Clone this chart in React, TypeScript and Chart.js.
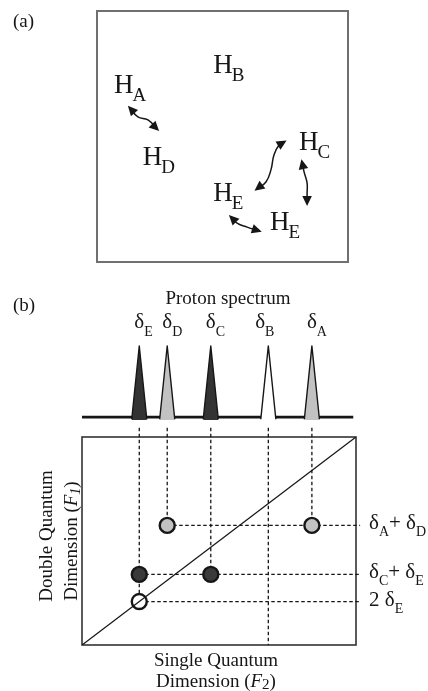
import React, { useEffect, useRef } from 'react';
import { Chart, registerables } from 'chart.js';

Chart.register(...registerables);

const SERIF = "'Liberation Serif', 'Times New Roman', serif";
const INK = '#161616';

// ---------------- panel (a): protons in the molecule ----------------
const atomLabels = ['A', 'B', 'D', 'C', 'E', 'E'];
const atomX = [0.68, 4.63, 1.82, 8.05, 4.63, 6.89];
const atomY = [6.73, 7.54, 3.86, 4.46, 2.43, 1.27];

// double-headed coupling arrows (wavy paths)
const couplingAD = [[1.31, 6.14], [1.63, 5.78], [2.03, 5.66], [2.39, 5.3]];
const couplingEC = [[6.37, 2.91], [6.73, 3.19], [6.93, 3.67], [7.05, 4.26], [7.25, 4.66], [7.45, 4.78]];
const couplingCE = [[8.17, 3.98], [8.25, 3.59], [8.37, 3.15], [8.37, 2.71], [8.37, 2.35]];
const couplingEE = [[5.34, 1.79], [5.58, 1.55], [5.98, 1.39], [6.45, 1.24]];

// ---------------- panel (b): spectrum and DQ map ----------------
const shiftNames = ['E', 'D', 'C', 'B', 'A'];
const shiftValues = [2.09, 3.11, 4.7, 6.8, 8.39];
const peakIntensity = [1, 1, 1, 1, 1];
const peakColors = ['#333333', '#c2c2c2', '#333333', '#ffffff', '#c2c2c2'];
const shiftLabelNudge = [0, 0, 0, -0.3, 0];

const correlationPairs = [['A', 'D'], ['C', 'E'], ['E', 'E']];
const correlationColors = ['#c2c2c2', '#3a3a3a', '#ffffff'];

const F2_MIN = 0;
const F2_MAX = 10;
const F1_MIN = 0;
const F1_MAX = 20;
const BASELINE_END = 9.9;
const HLINE_END = 10.15;
const VLINE_TOP = 20.9;
const PEAK_HALF_WIDTH = 0.275;

type Run = { t: string; size: number; italic?: boolean; dy?: number };

function fontOf(r: Run) {
  return `${r.italic ? 'italic ' : ''}${r.size}px ${SERIF}`;
}

function drawRuns(ctx: CanvasRenderingContext2D, runs: Run[], x: number, y: number, align: 'left' | 'center') {
  const widths = runs.map((r) => {
    ctx.font = fontOf(r);
    return ctx.measureText(r.t).width;
  });
  const total = widths.reduce((a, b) => a + b, 0);
  let cx = align === 'center' ? x - total / 2 : x;
  ctx.textAlign = 'left';
  ctx.textBaseline = 'alphabetic';
  runs.forEach((r, i) => {
    ctx.font = fontOf(r);
    ctx.fillText(r.t, cx, y + (r.dy || 0));
    cx += widths[i];
  });
}

const toPts = (arr: number[][]) => arr.map(([x, y]) => ({ x, y }));
const shiftOf = (n: string) => shiftValues[shiftNames.indexOf(n)];

export default function App() {
  const refA = useRef<HTMLCanvasElement>(null);
  const refS = useRef<HTMLCanvasElement>(null);
  const refB = useRef<HTMLCanvasElement>(null);

  useEffect(() => {
    const common = {
      responsive: false,
      animation: false as const,
      events: [] as any[],
      plugins: { legend: { display: false }, tooltip: { enabled: false } },
    };

    // ---------- chart (a) ----------
    const arrows = [couplingAD, couplingEC, couplingCE, couplingEE];
    const panelAPlugin = {
      id: 'panelA',
      beforeDatasetsDraw(chart: any) {
        const { ctx, chartArea: a } = chart;
        ctx.save();
        ctx.strokeStyle = '#707070';
        ctx.lineWidth = 2;
        ctx.strokeRect(a.left, a.top, a.right - a.left, a.bottom - a.top);
        ctx.restore();
      },
      afterDatasetsDraw(chart: any) {
        const { ctx } = chart;
        const xs = chart.scales.x;
        const ys = chart.scales.y;
        ctx.save();
        ctx.fillStyle = INK;
        drawRuns(ctx, [{ t: '(a)', size: 19 }], 13, 27, 'left');
        atomLabels.forEach((lab, i) => {
          const px = xs.getPixelForValue(atomX[i]);
          const py = ys.getPixelForValue(atomY[i]);
          ctx.font = `27px ${SERIF}`;
          ctx.textAlign = 'left';
          ctx.textBaseline = 'alphabetic';
          ctx.fillText('H', px, py);
          const w = ctx.measureText('H').width;
          ctx.font = `19px ${SERIF}`;
          ctx.fillText(lab, px + w - 1, py + 8);
        });
        // arrowheads
        const head = (tip: { x: number; y: number }, from: { x: number; y: number }) => {
          let dx = tip.x - from.x;
          let dy = tip.y - from.y;
          const len = Math.hypot(dx, dy) || 1;
          dx /= len;
          dy /= len;
          const tx = tip.x + dx * 3;
          const ty = tip.y + dy * 3;
          const bx = tx - dx * 10;
          const by = ty - dy * 10;
          ctx.beginPath();
          ctx.moveTo(tx, ty);
          ctx.lineTo(bx - dy * 4.8, by + dx * 4.8);
          ctx.lineTo(bx + dy * 4.8, by - dx * 4.8);
          ctx.closePath();
          ctx.fill();
        };
        arrows.forEach((arr) => {
          const p = arr.map(([x, y]) => ({ x: xs.getPixelForValue(x), y: ys.getPixelForValue(y) }));
          head(p[0], p[1]);
          head(p[p.length - 1], p[p.length - 2]);
        });
        ctx.restore();
      },
    };

    const chartA = new Chart(refA.current!, {
      type: 'scatter',
      data: {
        datasets: arrows.map((arr) => ({
          data: toPts(arr),
          showLine: true,
          tension: 0.45,
          borderColor: INK,
          borderWidth: 1.5,
          pointRadius: 0,
          clip: false,
        })),
      },
      options: {
        ...common,
        layout: { padding: { left: 97, right: 80, top: 11, bottom: 8 } },
        scales: {
          x: { type: 'linear', display: false, min: 0, max: 10 },
          y: { type: 'linear', display: false, min: 0, max: 10 },
        },
      } as any,
      plugins: [panelAPlugin],
    });

    // ---------- spectrum ----------
    const specPlugin = {
      id: 'specLabels',
      afterDraw(chart: any) {
        const { ctx } = chart;
        const xs = chart.scales.x;
        ctx.save();
        ctx.fillStyle = INK;
        drawRuns(ctx, [{ t: '(b)', size: 19 }], 13, 41, 'left');
        drawRuns(ctx, [{ t: 'Proton spectrum', size: 19 }], 228, 34, 'center');
        shiftNames.forEach((n, i) => {
          const px = xs.getPixelForValue(shiftValues[i] + shiftLabelNudge[i]);
          ctx.font = `21px ${SERIF}`;
          const w = ctx.measureText('δ').width;
          drawRuns(ctx, [{ t: 'δ', size: 21 }, { t: n, size: 14, dy: 8 }], px - w / 2, 58, 'left');
        });
        ctx.restore();
      },
    };

    const peakSets = shiftValues.map((s, i) => ({
      data: [
        { x: s - PEAK_HALF_WIDTH, y: -0.03 },
        { x: s, y: peakIntensity[i] },
        { x: s + PEAK_HALF_WIDTH, y: -0.03 },
      ],
      showLine: true,
      fill: 'start',
      backgroundColor: peakColors[i],
      borderColor: INK,
      borderWidth: 1.4,
      borderJoinStyle: 'round',
      pointRadius: 0,
      tension: 0,
      clip: false,
    }));

    const chartS = new Chart(refS.current!, {
      type: 'scatter',
      data: {
        datasets: [
          ...peakSets,
          {
            data: [
              { x: F2_MIN, y: 0 },
              { x: BASELINE_END, y: 0 },
            ],
            showLine: true,
            fill: false,
            borderColor: INK,
            borderWidth: 2.6,
            pointRadius: 0,
            clip: false,
          },
        ],
      } as any,
      options: {
        ...common,
        layout: { padding: { left: 82, right: 72, top: 76, bottom: 5 } },
        scales: {
          x: { type: 'linear', display: false, min: F2_MIN, max: F2_MAX },
          y: { type: 'linear', display: false, min: -0.04, max: 1 },
        },
      } as any,
      plugins: [specPlugin],
    });

    // ---------- DQ map ----------
    const corrY = correlationPairs.map(([a, b]) => shiftOf(a) + shiftOf(b));
    const circleSets = correlationPairs.map(([a, b], i) => ({
      data: (a === b ? [a] : [a, b]).map((n) => ({ x: shiftOf(n), y: corrY[i] })),
      showLine: false,
      pointRadius: 7.5,
      pointBorderWidth: 2.4,
      pointBackgroundColor: correlationColors[i],
      pointBorderColor: INK,
      clip: false,
    }));
    const dashStyle = {
      showLine: true,
      borderColor: INK,
      borderWidth: 1.3,
      borderDash: [3.5, 2.5],
      pointRadius: 0,
      clip: false,
    };
    const hLines = correlationPairs.map(([a, b], i) => ({
      ...dashStyle,
      data: [
        { x: Math.min(shiftOf(a), shiftOf(b)), y: corrY[i] },
        { x: HLINE_END, y: corrY[i] },
      ],
    }));
    const vLines = shiftNames.map((n, i) => {
      const ys = correlationPairs
        .map((p, j) => (p.includes(n) ? corrY[j] : null))
        .filter((v) => v !== null) as number[];
      const bottom = ys.length ? Math.min(...ys) : F1_MIN;
      return {
        ...dashStyle,
        data: [
          { x: shiftValues[i], y: VLINE_TOP },
          { x: shiftValues[i], y: bottom },
        ],
      };
    });
    const diagonal = {
      data: [
        { x: F2_MIN, y: F1_MIN },
        { x: F2_MAX, y: F1_MAX },
      ],
      showLine: true,
      borderColor: INK,
      borderWidth: 1.3,
      pointRadius: 0,
    };

    const mapPlugin = {
      id: 'mapDecor',
      beforeDatasetsDraw(chart: any) {
        const { ctx, chartArea: a } = chart;
        ctx.save();
        ctx.strokeStyle = '#333';
        ctx.lineWidth = 1.6;
        ctx.strokeRect(a.left, a.top, a.right - a.left, a.bottom - a.top);
        ctx.restore();
      },
      afterDraw(chart: any) {
        const { ctx, chartArea: a } = chart;
        const ys = chart.scales.y;
        ctx.save();
        ctx.fillStyle = INK;
        const cx = (a.left + a.right) / 2 - 3;
        drawRuns(ctx, [{ t: 'Single Quantum', size: 19 }], cx, a.bottom + 21, 'center');
        drawRuns(
          ctx,
          [
            { t: 'Dimension (', size: 19 },
            { t: 'F', size: 19, italic: true },
            { t: '2', size: 15, dy: 2 },
            { t: ')', size: 19 },
          ],
          cx,
          a.bottom + 42,
          'center'
        );
        const cy = (a.top + a.bottom) / 2;
        ctx.save();
        ctx.translate(a.left - 30, cy - 5);
        ctx.rotate(-Math.PI / 2);
        drawRuns(ctx, [{ t: 'Double Quantum', size: 19 }], 0, 0, 'center');
        ctx.restore();
        ctx.save();
        ctx.translate(a.left - 5, cy);
        ctx.rotate(-Math.PI / 2);
        drawRuns(
          ctx,
          [
            { t: 'Dimension (', size: 19 },
            { t: 'F', size: 19, italic: true },
            { t: '1', size: 14, italic: true, dy: 3 },
            { t: ')', size: 19 },
          ],
          0,
          0,
          'center'
        );
        ctx.restore();
        correlationPairs.forEach(([p, q], i) => {
          const py = ys.getPixelForValue(corrY[i]) + 4;
          const runs: Run[] =
            p === q
              ? [{ t: '2 δ', size: 21 }, { t: p, size: 14, dy: 7 }]
              : [
                  { t: 'δ', size: 21 },
                  { t: p, size: 14, dy: 7 },
                  { t: '+ δ', size: 21 },
                  { t: q, size: 14, dy: 7 },
                ];
          drawRuns(ctx, runs, a.right + 13, py, 'left');
        });
        ctx.restore();
      },
    };

    const chartB = new Chart(refB.current!, {
      type: 'scatter',
      data: { datasets: [diagonal, ...circleSets, ...hLines, ...vLines] } as any,
      options: {
        ...common,
        layout: { padding: { left: 82, right: 72, top: 12, bottom: 46 } },
        scales: {
          x: { type: 'linear', display: false, min: F2_MIN, max: F2_MAX },
          y: { type: 'linear', display: false, min: F1_MIN, max: F1_MAX },
        },
      } as any,
      plugins: [mapPlugin],
    });

    return () => {
      chartA.destroy();
      chartS.destroy();
      chartB.destroy();
    };
  }, []);

  const cv = (top: number): React.CSSProperties => ({ position: 'absolute', left: 0, top, display: 'block' });

  return (
    <div style={{ position: 'absolute', left: 0, top: 0, width: 428, height: 691, background: '#fff', overflow: 'hidden' }}>
      <canvas ref={refA} width={428} height={270} style={cv(0)} />
      <canvas ref={refS} width={428} height={155} style={cv(270)} />
      <canvas ref={refB} width={428} height={266} style={cv(425)} />
    </div>
  );
}
